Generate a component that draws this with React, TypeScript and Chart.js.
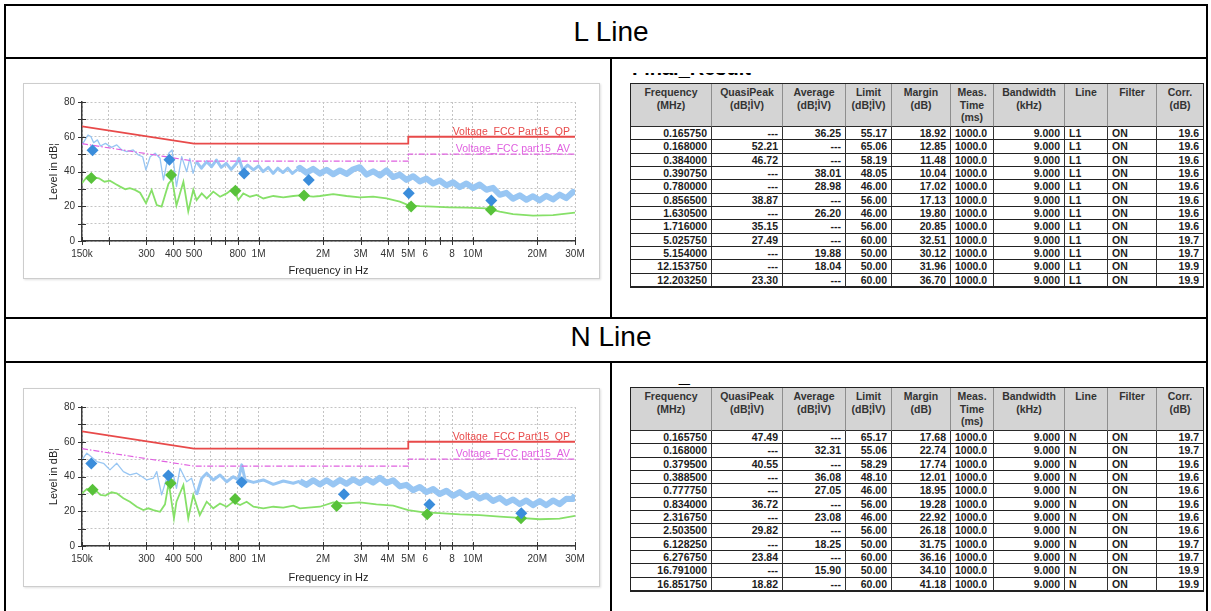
import React, { useEffect, useRef } from 'react';
import { Chart, registerables } from 'chart.js';

Chart.register(...registerables);

const FONT = '"Liberation Sans", Arial, Helvetica, sans-serif';
Chart.defaults.font.family = FONT;

// ---------- axes ----------
const xTickValues = [0.15, 0.2, 0.3, 0.4, 0.5, 0.6, 0.7, 0.8, 1, 2, 3, 4, 5, 6, 7, 8, 10, 20, 30];
const xTickLabels = ['150k', '', '300', '400', '500', '', '', '800', '1M', '2M', '3M', '4M', '5M', '6', '', '8', '10M', '20M', '30M'];
const yTickValues = [0, 10, 20, 30, 40, 50, 60, 70, 80];

// ---------- limit lines (MHz / dBµV) ----------
const limitFreq = [0.15, 0.5, 5, 5, 30];
const qpLimit = [66, 56, 56, 60, 60];
const avLimit = [56, 46, 46, 50, 50];
const qpLabel = 'Voltage_FCC Part15_QP';
const avLabel = 'Voltage_FCC part15_AV';

// ---------- L line traces ----------
const lPeakFreq = [0.150, 0.155, 0.160, 0.165, 0.170, 0.177, 0.183, 0.193, 0.206, 0.218, 0.230, 0.243, 0.260, 0.275, 0.288, 0.298, 0.312, 0.329, 0.347, 0.360, 0.381, 0.395, 0.414, 0.438, 0.462, 0.478, 0.495, 0.513, 0.541, 0.573, 0.604, 0.636, 0.670, 0.707, 0.745, 0.790, 0.810, 0.845, 0.890, 0.947, 1.000, 1.050, 1.110, 1.170, 1.230, 1.300, 1.370, 1.440, 1.520, 1.560, 1.676, 1.800, 1.934, 2.077, 2.231, 2.397, 2.575, 2.766, 2.971, 3.191, 3.428, 3.683, 3.956, 4.249, 4.565, 4.903, 5.267, 5.658, 6.078, 6.529, 7.013, 7.534, 8.093, 8.693, 9.338, 10.03, 10.78, 11.58, 12.43, 13.36, 14.35, 15.41, 16.56, 17.78, 19.10, 20.52, 22.04, 23.68, 25.44, 27.32, 29.35, 30.0];
const lPeakLevel = [55.3, 58.2, 61.0, 60.1, 56.6, 58.2, 54.7, 56.2, 53.9, 55.3, 52.4, 51.4, 52.4, 49.5, 48.5, 40.9, 48.5, 50.5, 47.6, 35.1, 50.5, 52.4, 31.3, 48.5, 39.9, 47.6, 38.9, 45.7, 41.9, 45.7, 42.8, 46.6, 42.4, 44.7, 41.2, 44.7, 47.6, 40.9, 43.7, 40.9, 43.2, 39.9, 42.4, 38.9, 41.9, 39.4, 41.9, 38.9, 41.2, 42.1, 39.3, 41.5, 38.8, 41.0, 38.4, 40.6, 38.6, 41.3, 42.5, 38.2, 40.1, 37.7, 40.6, 36.8, 38.2, 35.2, 37.3, 34.3, 35.9, 33.1, 34.8, 32.0, 33.8, 31.0, 33.1, 30.5, 32.5, 29.5, 30.6, 26.6, 27.7, 24.3, 26.3, 23.7, 25.8, 23.4, 26.0, 23.9, 26.7, 24.7, 28.2, 26.8];
const lAvgFreq = [0.150, 0.155, 0.160, 0.165, 0.170, 0.180, 0.191, 0.2025, 0.215, 0.226, 0.239, 0.251, 0.265, 0.280, 0.2985, 0.317, 0.335, 0.353, 0.380, 0.395, 0.414, 0.446, 0.470, 0.496, 0.514, 0.543, 0.573, 0.615, 0.661, 0.710, 0.763, 0.805, 0.849, 0.912, 0.980, 1.053, 1.172, 1.305, 1.453, 1.560, 1.800, 1.934, 2.231, 2.575, 2.971, 3.428, 3.956, 4.565, 5.000, 5.658, 6.529, 7.800, 9.338, 11.58, 13.36, 15.41, 19.10, 23.68, 30.0];
const lAvgLevel = [33.2, 35.5, 37.4, 38.0, 36.6, 36.1, 34.1, 34.7, 32.8, 31.3, 29.8, 30.4, 29.4, 27.8, 21.7, 29.4, 20.7, 19.8, 33.0, 35.5, 20.5, 34.1, 17.0, 29.4, 23.6, 27.4, 24.5, 28.4, 25.5, 27.4, 30.4, 23.6, 27.4, 25.5, 26.5, 24.5, 25.9, 25.1, 25.9, 26.3, 25.5, 25.9, 27.0, 25.9, 25.1, 25.5, 24.5, 22.6, 20.7, 20.1, 19.8, 19.4, 19.2, 18.8, 16.9, 15.5, 14.6, 14.9, 16.3];

// ---------- N line traces ----------
const nPeakFreq = [0.150, 0.158, 0.165, 0.176, 0.189, 0.2025, 0.218, 0.234, 0.251, 0.270, 0.285, 0.301, 0.323, 0.335, 0.353, 0.381, 0.400, 0.414, 0.430, 0.462, 0.487, 0.514, 0.543, 0.573, 0.615, 0.661, 0.710, 0.763, 0.805, 0.835, 0.866, 0.947, 1.053, 1.172, 1.305, 1.453, 1.560, 1.676, 1.800, 1.934, 2.077, 2.231, 2.397, 2.575, 2.766, 2.971, 3.191, 3.428, 3.683, 3.956, 4.249, 4.565, 4.903, 5.267, 5.658, 6.078, 6.529, 7.013, 7.534, 8.093, 8.693, 9.338, 10.03, 10.78, 11.58, 12.43, 13.36, 14.35, 15.41, 16.56, 17.78, 19.10, 20.52, 22.04, 23.68, 25.44, 27.32, 29.35, 30.0];
const nPeakLevel = [49.5, 53.4, 51.5, 48.6, 47.6, 43.8, 47.6, 42.8, 40.9, 41.9, 40.0, 38.0, 39.0, 42.8, 29.4, 42.8, 40.9, 33.2, 44.7, 37.0, 39.0, 29.4, 39.0, 41.9, 38.0, 40.9, 37.0, 39.9, 38.0, 46.7, 38.0, 36.6, 38.0, 35.5, 37.4, 36.1, 37.3, 35.2, 37.8, 35.4, 37.8, 35.4, 38.0, 35.8, 38.4, 36.1, 38.7, 36.5, 39.3, 36.3, 37.8, 34.3, 35.2, 32.1, 34.0, 31.0, 32.8, 29.9, 31.8, 28.9, 31.0, 28.2, 30.1, 27.3, 29.0, 25.9, 27.7, 24.8, 26.8, 24.1, 26.2, 23.5, 25.9, 23.5, 26.2, 24.1, 27.2, 27.0, 29.4];
const nAvgFreq = [0.150, 0.158, 0.165, 0.176, 0.183, 0.193, 0.206, 0.218, 0.234, 0.251, 0.270, 0.290, 0.306, 0.323, 0.347, 0.366, 0.381, 0.403, 0.414, 0.446, 0.470, 0.496, 0.532, 0.573, 0.615, 0.661, 0.710, 0.763, 0.820, 0.880, 0.947, 1.053, 1.172, 1.305, 1.453, 1.560, 1.934, 2.231, 2.575, 2.971, 3.550, 4.250, 5.000, 5.900, 7.000, 8.700, 10.78, 13.36, 16.56, 20.50, 25.40, 30.0];
const nAvgLevel = [30.3, 32.8, 32.2, 31.3, 29.4, 29.0, 30.9, 30.3, 27.5, 25.5, 22.6, 20.7, 21.7, 20.7, 19.7, 24.0, 36.6, 15.9, 25.5, 35.1, 15.9, 29.4, 17.8, 25.5, 21.7, 24.5, 22.6, 25.5, 23.6, 25.5, 22.6, 21.7, 22.6, 22.1, 23.2, 21.7, 22.6, 25.1, 24.5, 25.1, 24.0, 23.2, 20.7, 19.4, 18.9, 18.2, 17.8, 16.9, 16.2, 15.4, 15.8, 17.3];

// ---------- Final result tables ----------
const lFreq = [0.165750, 0.168000, 0.384000, 0.390750, 0.780000, 0.856500, 1.630500, 1.716000, 5.025750, 5.154000, 12.153750, 12.203250];
const lQuasiPeak = [null, 52.21, 46.72, null, null, 38.87, null, 35.15, 27.49, null, null, 23.30];
const lAverage = [36.25, null, null, 38.01, 28.98, null, 26.20, null, null, 19.88, 18.04, null];
const lLimit = [55.17, 65.06, 58.19, 48.05, 46.00, 56.00, 46.00, 56.00, 60.00, 50.00, 50.00, 60.00];
const lMargin = [18.92, 12.85, 11.48, 10.04, 17.02, 17.13, 19.80, 20.85, 32.51, 30.12, 31.96, 36.70];
const lCorr = [19.6, 19.6, 19.6, 19.6, 19.6, 19.6, 19.6, 19.6, 19.7, 19.7, 19.9, 19.9];

const nFreq = [0.165750, 0.168000, 0.379500, 0.388500, 0.777750, 0.834000, 2.316750, 2.503500, 6.128250, 6.276750, 16.791000, 16.851750];
const nQuasiPeak = [47.49, null, 40.55, null, null, 36.72, null, 29.82, null, 23.84, null, 18.82];
const nAverage = [null, 32.31, null, 36.08, 27.05, null, 23.08, null, 18.25, null, 15.90, null];
const nLimit = [65.17, 55.06, 58.29, 48.10, 46.00, 56.00, 46.00, 56.00, 50.00, 60.00, 50.00, 60.00];
const nMargin = [17.68, 22.74, 17.74, 12.01, 18.95, 19.28, 22.92, 26.18, 31.75, 36.16, 34.10, 41.18];
const nCorr = [19.7, 19.7, 19.6, 19.6, 19.6, 19.6, 19.6, 19.6, 19.7, 19.7, 19.9, 19.9];

const measTime = '1000.0';
const bandwidth = '9.000';
const filterState = 'ON';

const colWidths = [81, 71, 63, 46, 59, 43, 71, 43, 49, 46];
const headerLines = [
  ['Frequency', '(MHz)'],
  ['QuasiPeak', '(dB¦ÌV)'],
  ['Average', '(dB¦ÌV)'],
  ['Limit', '(dB¦ÌV)'],
  ['Margin', '(dB)'],
  ['Meas.', 'Time', '(ms)'],
  ['Bandwidth', '(kHz)'],
  ['Line'],
  ['Filter'],
  ['Corr.', '(dB)'],
];
const colAlign: ('left' | 'right')[] = ['right', 'right', 'right', 'right', 'right', 'left', 'right', 'left', 'left', 'right'];

const C_PEAK = '#98c6f3';
const C_AVG = '#86e068';
const C_QP_MARK = '#3b8ddb';
const C_AV_MARK = '#58c23a';
const C_QP_LIM = '#e84a4a';
const C_AV_LIM = '#e060e0';

const xy = (fs: number[], vs: number[]) => fs.map((f, i) => ({ x: f, y: vs[i] }));

interface ChartProps {
  top: number;
  height: number;
  titlePad: number;
  peakFreq: number[];
  peakLevel: number[];
  avgFreq: number[];
  avgLevel: number[];
  tabFreq: number[];
  tabQp: (number | null)[];
  tabAvg: (number | null)[];
}

function EmiChart(p: ChartProps) {
  const ref = useRef<HTMLCanvasElement>(null);
  const cw = 575;
  const ch = p.height - 2;
  useEffect(() => {
    if (!ref.current) return;
    const qpPts = p.tabFreq.map((f, i) => (p.tabQp[i] == null ? null : { x: f, y: p.tabQp[i] as number })).filter(Boolean) as any[];
    const avPts = p.tabFreq.map((f, i) => (p.tabAvg[i] == null ? null : { x: f, y: p.tabAvg[i] as number })).filter(Boolean) as any[];
    const overlay = {
      id: 'overlay',
      afterDraw(chart: any) {
        const { ctx, scales } = chart;
        const x = scales.x;
        const y = scales.y;
        ctx.save();
        ctx.strokeStyle = '#333';
        ctx.lineWidth = 1;
        xTickValues.forEach((v) => {
          const px = Math.round(x.getPixelForValue(v)) + 0.5;
          ctx.beginPath();
          ctx.moveTo(px, y.bottom - 4);
          ctx.lineTo(px, y.bottom + 4);
          ctx.stroke();
        });
        yTickValues.forEach((v) => {
          const py = Math.round(y.getPixelForValue(v)) + 0.5;
          ctx.beginPath();
          ctx.moveTo(x.left - 4, py);
          ctx.lineTo(x.left + 4, py);
          ctx.stroke();
        });
        ctx.font = '10.5px ' + FONT;
        ctx.textAlign = 'right';
        ctx.textBaseline = 'alphabetic';
        ctx.fillStyle = C_QP_LIM;
        ctx.fillText(qpLabel, x.right - 5, y.getPixelForValue(qpLimit[qpLimit.length - 1]) - 2);
        ctx.fillStyle = C_AV_LIM;
        ctx.fillText(avLabel, x.right - 5, y.getPixelForValue(avLimit[avLimit.length - 1]) - 2);
        ctx.restore();
      },
    };
    const chart = new Chart(ref.current, {
      type: 'line',
      data: {
        datasets: [
          { data: qpPts, showLine: false, pointStyle: 'rectRot', pointRadius: 6, pointBackgroundColor: C_QP_MARK, pointBorderColor: C_QP_MARK, pointBorderWidth: 0 },
          { data: avPts, showLine: false, pointStyle: 'rectRot', pointRadius: 6, pointBackgroundColor: C_AV_MARK, pointBorderColor: C_AV_MARK, pointBorderWidth: 0 },
          { data: xy(limitFreq, qpLimit), borderColor: C_QP_LIM, borderWidth: 1.8, pointRadius: 0 },
          { data: xy(limitFreq, avLimit), borderColor: C_AV_LIM, borderWidth: 1.2, borderDash: [6, 2, 1.5, 2], pointRadius: 0 },
          {
            data: xy(p.peakFreq, p.peakLevel), borderColor: C_PEAK, borderWidth: 1.3, pointRadius: 0, borderJoinStyle: 'round',
            segment: { borderWidth: (c: any) => (c.p0.parsed.x >= 1.5 ? 6 : c.p0.parsed.x >= 0.5 ? 3 : undefined) },
          },
          { data: xy(p.avgFreq, p.avgLevel), borderColor: C_AVG, borderWidth: 1.8, pointRadius: 0 },
        ] as any,
      },
      options: {
        animation: false,
        responsive: false,
        devicePixelRatio: 1,
        layout: { padding: { top: 18, right: 24, left: 0, bottom: 0 } },
        elements: { line: { tension: 0 } },
        plugins: { legend: { display: false }, tooltip: { enabled: false } },
        events: [],
        scales: {
          x: {
            type: 'logarithmic',
            min: 0.15,
            max: 30,
            afterBuildTicks: (s: any) => { s.ticks = xTickValues.map((v) => ({ value: v })); },
            afterFit: (s: any) => { s.height = ch - 157; },
            ticks: { autoSkip: false, maxRotation: 0, padding: 7, color: '#333', font: { size: 10 }, callback: (_v: any, i: number) => xTickLabels[i] },
            grid: { color: '#c4c4c4', lineWidth: 1, drawTicks: false },
            border: { color: '#3a3a3a', width: 1.5, dash: [2, 2] },
            title: { display: true, text: 'Frequency in Hz', color: '#222', font: { size: 11 }, padding: { top: 0, bottom: p.titlePad } },
          },
          y: {
            min: 0,
            max: 80,
            afterBuildTicks: (s: any) => { s.ticks = yTickValues.map((v) => ({ value: v })); },
            afterFit: (s: any) => { s.width = 58; },
            ticks: { padding: 7, color: '#333', font: { size: 10 }, callback: (v: any) => (Number(v) % 20 === 0 ? String(v) : '') },
            grid: { color: '#c4c4c4', lineWidth: 1, drawTicks: false },
            border: { color: '#3a3a3a', width: 1.5, dash: [2, 2] },
            title: { display: true, text: 'Level in dB¦', color: '#222', font: { size: 11 }, padding: { top: 23, bottom: 0 } },
          },
        },
      } as any,
      plugins: [overlay],
    });
    return () => chart.destroy();
  }, []);
  return (
    <div style={{ position: 'absolute', left: 23, top: p.top, width: 577, height: p.height, boxSizing: 'border-box', border: '1px solid #cdcdcd', background: '#fff', boxShadow: '1px 1px 2px rgba(0,0,0,0.12)' }}>
      <canvas ref={ref} width={cw} height={ch} style={{ display: 'block', width: cw, height: ch }} />
    </div>
  );
}

interface TableProps {
  top: number;
  freq: number[];
  qp: (number | null)[];
  avg: (number | null)[];
  limit: number[];
  margin: number[];
  corr: number[];
  lineName: string;
}

const HEAD_H = 43;
const ROW_H = 13.33;

function ResultTable(p: TableProps) {
  const xs = [0];
  colWidths.forEach((w) => xs.push(xs[xs.length - 1] + w));
  const totalW = xs[xs.length - 1];
  const cells: any[] = [];
  headerLines.forEach((lines, c) => {
    cells.push(
      <div key={'h' + c} style={{ position: 'absolute', left: xs[c], top: 0, width: colWidths[c], height: HEAD_H, background: '#d4d4d4', borderRight: c < 9 ? '1px solid #8e8e8e' : 'none', borderBottom: '1px solid #2a2a2a', boxSizing: 'border-box', textAlign: 'center', fontWeight: 'bold', fontSize: 10.5, lineHeight: '12.5px', paddingTop: 2, color: '#333', whiteSpace: 'nowrap' }}>
        {lines.map((s, i) => <div key={i}>{s}</div>)}
      </div>
    );
  });
  p.freq.forEach((f, r) => {
    const vals = [
      f.toFixed(6),
      p.qp[r] == null ? '---' : (p.qp[r] as number).toFixed(2),
      p.avg[r] == null ? '---' : (p.avg[r] as number).toFixed(2),
      p.limit[r].toFixed(2),
      p.margin[r].toFixed(2),
      measTime,
      bandwidth,
      p.lineName,
      filterState,
      p.corr[r].toFixed(1),
    ];
    vals.forEach((v, c) => {
      cells.push(
        <div key={r + '-' + c} style={{ position: 'absolute', left: xs[c], top: HEAD_H + r * ROW_H, width: colWidths[c], height: ROW_H, borderRight: c < 9 ? '1px solid #333' : 'none', borderBottom: '1px solid #222', boxSizing: 'border-box', textAlign: colAlign[c], padding: '0 4px', fontWeight: 'bold', fontSize: 10.5, lineHeight: ROW_H - 1 + 'px', color: '#1c1c1c', whiteSpace: 'nowrap', overflow: 'hidden' }}>
          {v}
        </div>
      );
    });
  });
  return (
    <div style={{ position: 'absolute', left: 630, top: p.top, width: totalW + 2, height: HEAD_H + 12 * ROW_H + 2, border: '1px solid #222', boxSizing: 'border-box' }}>
      {cells}
    </div>
  );
}

const Bar = ({ l, t, w, h }: { l: number; t: number; w: number; h: number }) => (
  <div style={{ position: 'absolute', left: l, top: t, width: w, height: h, background: '#000' }} />
);

function ClippedTitle({ top, height, textTop }: { top: number; height: number; textTop: number }) {
  return (
    <div style={{ position: 'absolute', left: 632, top, width: 140, height, overflow: 'hidden' }}>
      <span style={{ position: 'absolute', left: 0, top: textTop, fontSize: 20, fontWeight: 'bold', lineHeight: '20px', whiteSpace: 'nowrap', color: '#000' }}>Final_Result</span>
    </div>
  );
}

export default function App() {
  return (
    <div style={{ position: 'fixed', left: 0, top: 0, width: 1211, height: 611, background: '#fff', overflow: 'hidden', fontFamily: FONT }}>
      <Bar l={4} t={4} w={1204} h={2} />
      <Bar l={4} t={4} w={2} h={607} />
      <Bar l={1206} t={4} w={2} h={607} />
      <Bar l={4} t={57} w={1204} h={2} />
      <Bar l={4} t={317} w={1204} h={2} />
      <Bar l={4} t={361} w={1204} h={2} />
      <Bar l={610} t={57} w={2} h={262} />
      <Bar l={610} t={361} w={2} h={250} />

      <div style={{ position: 'absolute', left: 611, top: 16, transform: 'translateX(-50%)', fontSize: 28, lineHeight: '32px', whiteSpace: 'nowrap', color: '#000' }}>L Line</div>
      <div style={{ position: 'absolute', left: 611, top: 321, transform: 'translateX(-50%)', fontSize: 28, lineHeight: '32px', whiteSpace: 'nowrap', color: '#000' }}>N Line</div>

      <EmiChart top={83} height={196} titlePad={0.4} peakFreq={lPeakFreq} peakLevel={lPeakLevel} avgFreq={lAvgFreq} avgLevel={lAvgLevel} tabFreq={lFreq} tabQp={lQuasiPeak} tabAvg={lAverage} />
      <EmiChart top={388} height={199} titlePad={1.7} peakFreq={nPeakFreq} peakLevel={nPeakLevel} avgFreq={nAvgFreq} avgLevel={nAvgLevel} tabFreq={nFreq} tabQp={nQuasiPeak} tabAvg={nAverage} />

      <ClippedTitle top={73} height={5} textTop={-14.9} />
      <ClippedTitle top={383} height={4} textTop={-17.9} />

      <ResultTable top={83} freq={lFreq} qp={lQuasiPeak} avg={lAverage} limit={lLimit} margin={lMargin} corr={lCorr} lineName="L1" />
      <ResultTable top={387} freq={nFreq} qp={nQuasiPeak} avg={nAverage} limit={nLimit} margin={nMargin} corr={nCorr} lineName="N" />
    </div>
  );
}
